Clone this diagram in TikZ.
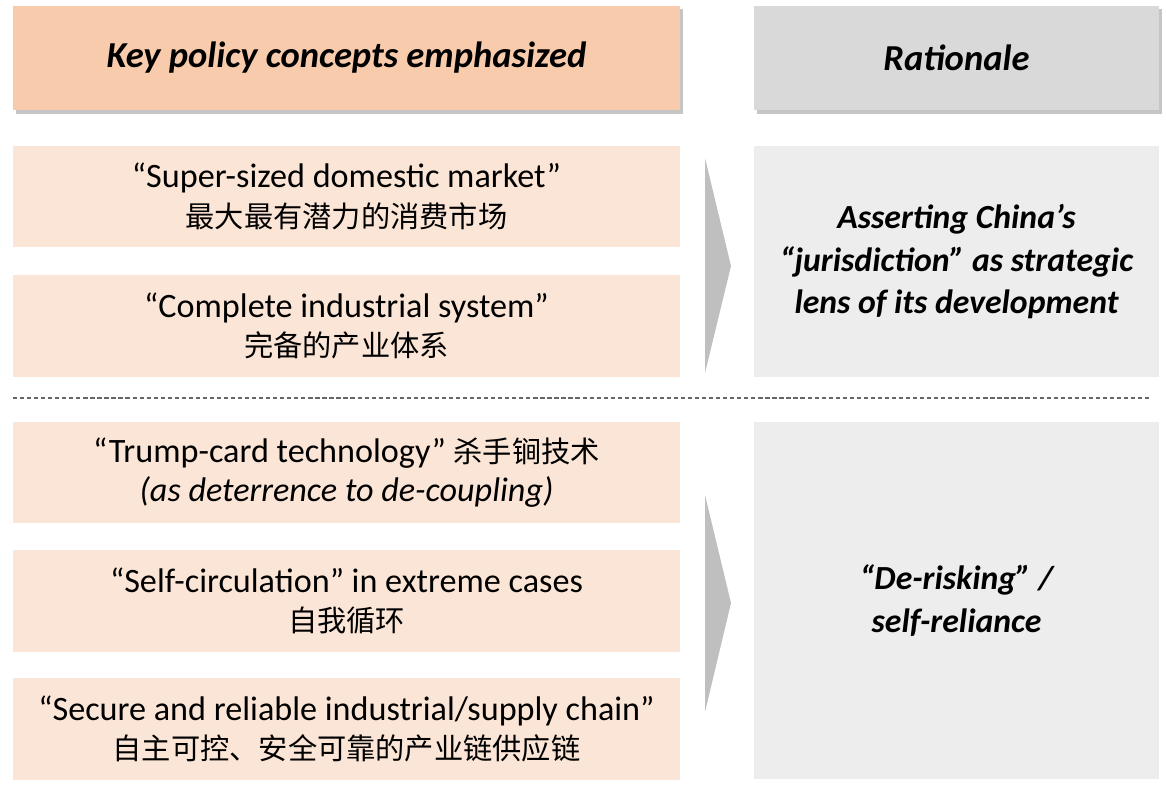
\documentclass[tikz,border=0pt]{standalone}
\usepackage{fontspec}
\setmainfont{Carlito}
\newfontfamily\cjk{Noto Sans CJK SC}
\usetikzlibrary{shadows}
\usepackage{xcolor}

\definecolor{hdrpeach}{HTML}{F8CBAD}
\definecolor{boxpeach}{HTML}{FBE5D6}
\definecolor{hdrgray}{HTML}{D9D9D9}
\definecolor{boxgray}{HTML}{EDEDED}
\definecolor{chevgray}{HTML}{BFBFBF}

\newcommand{\zh}[1]{{\cjk\fontsize{20.8}{28}\selectfont #1}}

\tikzset{
    hdr/.style={inner sep=0pt, minimum height=2.6cm,
        font=\fontsize{26}{31}\selectfont\bfseries\itshape,
        drop shadow={shadow xshift=2pt, shadow yshift=-2.5pt, fill=black!45}},
    concept/.style={fill=boxpeach, inner sep=0pt, minimum width=16.675cm,
        minimum height=2.525cm, align=center,
        font=\fontsize{24.3}{28}\selectfont},
    rationale/.style={fill=boxgray, inner sep=0pt, minimum width=10.125cm,
        align=center, font=\fontsize{24}{30.5}\selectfont\bfseries\itshape},
    chevron/.style={fill=chevgray},
    sepline/.style={draw=black!60, line width=1.3pt, dash pattern=on 3pt off 2pt}
}

\begin{document}
\begin{tikzpicture}[x=0.025cm, y=-0.025cm]
    \useasboundingbox (0, 0) rectangle (1166, 801);

    \def\xl{346.5}
    \def\xr{956.5}

    % headers
    \node[hdr, fill=hdrpeach, minimum width=16.675cm] (hdrL) at (\xl, 58) {Key policy concepts emphasized};
    \node[hdr, fill=hdrgray, minimum width=10.125cm] (hdrR) at (\xr, 58) {Rationale};

    % concepts
    \node[concept] (conc1) at (\xl, 196.5) {“Super-sized domestic market”\\\zh{最大最有潜力的消费市场}};
    \node[concept] (conc2) at (\xl, 326) {“Complete industrial system”\\\zh{完备的产业体系}};
    \node[concept] (conc3) at (\xl, 472.5) {“Trump-card technology” \zh{杀手锏技术}\\\textit{(as deterrence to de-coupling)}};
    \node[concept] (conc4) at (\xl, 601) {“Self-circulation” in extreme cases\\\zh{自我循环}};
    \node[concept] (conc5) at (\xl, 729) {“Secure and reliable industrial/supply chain”\\\zh{自主可控、安全可靠的产业链供应链}};

    % rationale
    \node[rationale, minimum height=5.775cm] (rat1) at (\xr, 261.5) {Asserting China’s\\“jurisdiction” as strategic\\lens of its development};
    \node[rationale, minimum height=8.925cm] (rat2) at (\xr, 600.5) {“De-risking” /\\self-reliance};

    % chevrons
    \fill[chevron] (705, 158) -- (731, 266) -- (705, 373) -- cycle;
    \fill[chevron] (705, 495) -- (731, 603) -- (705, 712) -- cycle;

    \coordinate (dashL) at (13, 398);
    \coordinate (dashR) at (1152, 398);
    \draw[sepline] (dashL) -- (dashR);
\end{tikzpicture}
\end{document}
